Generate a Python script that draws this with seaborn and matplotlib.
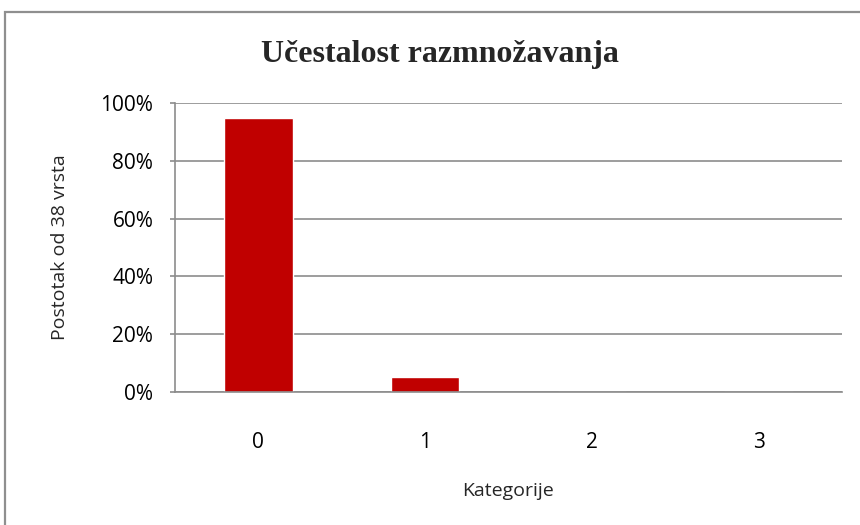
import matplotlib
matplotlib.use("Agg")

import matplotlib.pyplot as plt
import matplotlib.ticker as mticker
from matplotlib.patches import Rectangle
import seaborn as sns
import pandas as pd

# podaci: udio vrsta po kategoriji (od 38 vrsta)
categories = ["0", "1", "2", "3"]
shares = [36 / 38, 2 / 38, 0.0, 0.0]

BAR_COLOR = "#C00000"
GRID_COLOR = "#8C8C8C"

sns.set_theme(style="white")
plt.rcParams["font.family"] = ["Open Sans", "DejaVu Sans"]

df = pd.DataFrame({"kategorija": categories, "udio": shares})

fig = plt.figure(figsize=(8.6, 5.25), dpi=100)
ax = fig.add_axes([0.2035, 0.2533, 0.7755, 0.5505])

sns.barplot(data=df, x="kategorija", y="udio", color=BAR_COLOR,
            width=0.41, saturation=1, ax=ax)

ax.set_xlim(-0.5, 3.5)
ax.set_ylim(0, 1.0)
ax.yaxis.set_major_locator(mticker.MultipleLocator(0.2))
ax.yaxis.set_major_formatter(mticker.PercentFormatter(1.0, decimals=0))
ax.grid(axis="y", color=GRID_COLOR, linewidth=1.2)
ax.set_axisbelow(True)

for side in ["top", "right"]:
    ax.spines[side].set_visible(False)
for side in ["left", "bottom"]:
    ax.spines[side].set_color(GRID_COLOR)
    ax.spines[side].set_linewidth(1.2)

ax.tick_params(axis="y", left=True, length=3.6, width=1.2, color=GRID_COLOR,
               labelsize=15, pad=12, labelcolor="black")
ax.tick_params(axis="x", bottom=False, labelsize=15, pad=23, labelcolor="black")

ax.set_xlabel("Kategorije", fontsize=14, labelpad=21)
ax.set_ylabel("Postotak od 38 vrsta", fontsize=14, labelpad=23)

fig.text(0.512, 0.897, "Učestalost razmnožavanja", ha="center", va="center",
         fontsize=23, fontweight="bold", family=["Liberation Serif", "DejaVu Serif"])

# okvir grafikona
fig.patches.append(Rectangle((5 / 860, -0.05), 1.1, 1.05 - 12 / 525,
                             transform=fig.transFigure, fill=False,
                             edgecolor="#8F8F8F", linewidth=1.6))

fig.savefig("out.png", dpi=100)
